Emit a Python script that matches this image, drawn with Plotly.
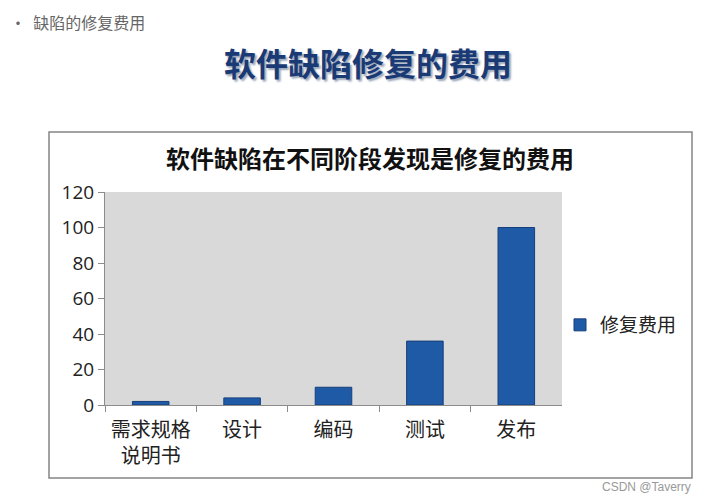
import plotly.graph_objects as go

# defect repair cost at each stage
stages = ["需求规格<br>说明书", "设计", "编码", "测试", "发布"]
costs = [2, 4, 10, 36, 100]
series_name = "修复费用"
y_ticks = [0, 20, 40, 60, 80, 100, 120]

W, H = 710, 500
OFF = 8  # page body margin in the browser


def px(x):
    return (x - OFF) / W


def py(y):
    return 1 - (y - OFF) / H


# plot area in pixels (left, right, top, bottom)
px_l, px_r, px_t, px_b = 105, 562, 192, 405

fig = go.Figure()
fig.add_trace(go.Bar(
    x=stages, y=costs, name=series_name,
    marker=dict(color="#1f5aa6", line=dict(color="#173f7a", width=1)),
    width=0.4,
))

font_cn = "Noto Sans CJK SC"

fig.update_layout(
    width=W, height=H, autosize=False,
    margin=dict(l=0, r=0, t=0, b=0, autoexpand=False),
    paper_bgcolor="white",
    plot_bgcolor="#d9d9d9",
    font=dict(family=font_cn, color="#222"),
    showlegend=True,
    legend=dict(x=px(560), y=py(325), xanchor="left", yanchor="middle",
                font=dict(size=19, color="#222"), bgcolor="rgba(0,0,0,0)",
                itemwidth=30),
)

fig.update_xaxes(
    domain=[px(px_l), px(px_r)], automargin=False,
    showline=True, linecolor="#8c8c8c", linewidth=1,
    ticks="outside", tickson="boundaries", ticklen=6, tickcolor="#8c8c8c",
    tickfont=dict(size=20, color="#222", family=font_cn),
    ticklabelstandoff=7,
    showgrid=False,
)
fig.update_yaxes(
    domain=[py(px_b), py(px_t)], automargin=False,
    range=[0, 120], tickvals=y_ticks,
    showline=True, linecolor="#8c8c8c", linewidth=1,
    ticks="outside", ticklen=6, tickcolor="#8c8c8c",
    tickfont=dict(size=19, color="#222", family="Open Sans"),
    showgrid=False, zeroline=False,
)

# chart frame
fig.add_shape(type="rect", xref="paper", yref="paper",
              x0=px(49), x1=px(692), y0=py(478), y1=py(132),
              line=dict(color="#858585", width=1.5), layer="below")

# slide bullet, slide title, chart title, watermark
fig.add_annotation(text="•  缺陷的修复费用", xref="paper", yref="paper",
                   x=px(8), y=1, xanchor="left", yanchor="top",
                   showarrow=False, font=dict(size=16, color="#666", family=font_cn))
fig.add_annotation(text="<b>软件缺陷修复的费用</b>", xref="paper", yref="paper",
                   x=px(368), y=py(62), xanchor="center", yanchor="middle",
                   showarrow=False,
                   font=dict(size=32, color="#1a3a75", family=font_cn,
                             shadow="2px 2px 2px #9aa6b8"))
fig.add_annotation(text="<b>软件缺陷在不同阶段发现是修复的费用</b>", xref="paper", yref="paper",
                   x=px(370), y=py(157), xanchor="center", yanchor="middle",
                   showarrow=False, font=dict(size=24, color="#111", family=font_cn))
fig.add_annotation(text="CSDN @Taverry", xref="paper", yref="paper",
                   x=px(693), y=py(487), xanchor="right", yanchor="middle",
                   showarrow=False, font=dict(size=12, color="#999", family="Liberation Sans"))

fig.write_html("out.html")
